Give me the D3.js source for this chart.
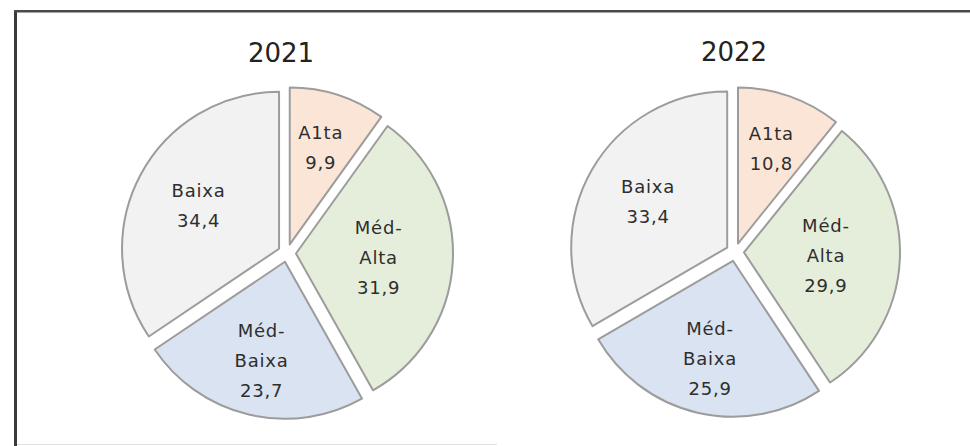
<!DOCTYPE html>
<html>
<head>
<meta charset="utf-8">
<script src="https://cdn.jsdelivr.net/npm/d3@7"></script>
<style>
  body { margin: 0; background: #fff; }
  svg { display: block; }
</style>
</head>
<body>
<div id="chart"></div>
<script>
// data
var years = ["2021", "2022"];
var categories = ["A1ta", "Méd-Alta", "Méd-Baixa", "Baixa"];
var labelLines = [["A1ta"], ["Méd-", "Alta"], ["Méd-", "Baixa"], ["Baixa"]];
var values2021 = [9.9, 31.9, 23.7, 34.4];
var values2022 = [10.8, 29.9, 25.9, 33.4];
var fills = ["#fbe5d6", "#e5eeda", "#dae3f1", "#f2f2f2"];

var width = 970, height = 446;

var svg = d3.select("#chart").append("svg")
    .attr("width", width)
    .attr("height", height);

// frame like the original screenshot
svg.append("line").attr("x1", 15.5).attr("x2", 15.5).attr("y1", 10).attr("y2", height)
    .attr("stroke", "#3a3a3a").attr("stroke-width", 3);
svg.append("line").attr("x1", 14).attr("x2", width).attr("y1", 11.2).attr("y2", 11.2)
    .attr("stroke", "#4a4a4a").attr("stroke-width", 2.5);
svg.append("line").attr("x1", 17).attr("x2", 497).attr("y1", 444.5).attr("y2", 444.5)
    .attr("stroke", "#e0e0e0").attr("stroke-width", 1);

var pies = [
  { year: years[0], values: values2021, cx: 287, cy: 253, r: 157, tx: 281, ty: 62 },
  { year: years[1], values: values2022, cx: 735, cy: 252, r: 156, tx: 734, ty: 61 }
];

var pie = d3.pie().sort(null).value(function(d) { return d.value; });
var explode = 9;
var fmt = function(v) { return d3.format(".1f")(v).replace(".", ","); };

pies.forEach(function(p) {
    var g = svg.append("g").attr("transform", "translate(" + p.cx + "," + p.cy + ")");

    var arc = d3.arc().innerRadius(0).outerRadius(p.r);

    var rows = p.values.map(function(v, i) {
        return { name: categories[i], value: v, lines: labelLines[i], fill: fills[i] };
    });

    var slices = g.selectAll("g.slice")
        .data(pie(rows))
        .enter().append("g")
        .attr("class", "slice")
        .attr("transform", function(d) {
            var a = (d.startAngle + d.endAngle) / 2;
            return "translate(" + (Math.sin(a) * explode) + "," + (-Math.cos(a) * explode) + ")";
        });

    slices.append("path")
        .attr("d", arc)
        .attr("fill", function(d) { return d.data.fill; })
        .attr("stroke", "#9c9c9c")
        .attr("stroke-width", 2)
        .attr("stroke-linejoin", "round");

    // wide text blocks sit closer to the centre when the slice points sideways (best fit)
    var lineH = 30;
    slices.append("text")
        .attr("font-family", "'DejaVu Sans', sans-serif")
        .attr("font-size", 18)
        .attr("letter-spacing", 0.8)
        .attr("fill", "#2e2e2e")
        .attr("text-anchor", "middle")
        .each(function(d) {
            var a = (d.startAngle + d.endAngle) / 2;
            var lr = p.r * (0.52 + 0.13 * Math.abs(Math.cos(a)));
            var c = d3.arc().innerRadius(lr).outerRadius(lr).centroid(d);
            var lines = d.data.lines.concat([fmt(d.data.value)]);
            var y0 = c[1] - (lines.length - 1) * lineH / 2 + 6;
            var t = d3.select(this);
            lines.forEach(function(s, i) {
                t.append("tspan").attr("x", c[0]).attr("y", y0 + i * lineH).text(s);
            });
        });

    svg.append("text")
        .attr("x", p.tx)
        .attr("y", p.ty)
        .attr("text-anchor", "middle")
        .attr("font-family", "'DejaVu Sans', sans-serif")
        .attr("font-size", 26)
        .attr("fill", "#222")
        .text(p.year);
});
</script>
</body>
</html>
